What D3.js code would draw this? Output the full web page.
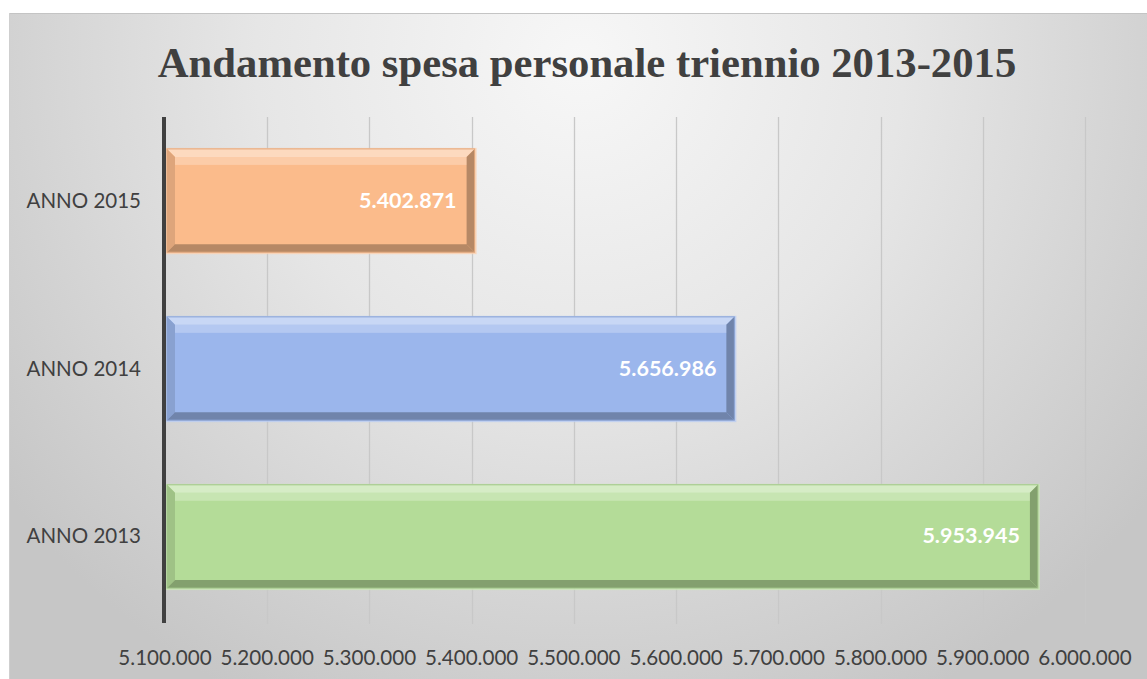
<!DOCTYPE html>
<html>
<meta charset="utf-8">
<head>
<style>
body { margin: 0; background: #fff; }
svg { display: block; }
</style>
</head>
<body>
<svg width="1147" height="679"></svg>

<script src="https://cdn.jsdelivr.net/npm/d3@7"></script>

<script>

// data
var categories = ["ANNO 2015", "ANNO 2014", "ANNO 2013"];
var values = [5402871, 5656986, 5953945];
var barColors = ["#fbbb8b", "#9bb6ec", "#b4dc98"];
var tickValues = [5100000, 5200000, 5300000, 5400000, 5500000, 5600000, 5700000, 5800000, 5900000, 6000000];
var title = "Andamento spesa personale triennio 2013-2015";

var svg = d3.select("svg"),
    width = +svg.attr("width"),
    height = +svg.attr("height");

var margin = {left: 165, right: 62, top: 117, bottom: 59};

var defs = svg.append("defs");
var bg = defs.append("radialGradient")
    .attr("id", "bg")
    .attr("gradientUnits", "userSpaceOnUse")
    .attr("cx", 580).attr("cy", 60).attr("r", 720);
bg.append("stop").attr("offset", "0").attr("stop-color", "#f7f7f7");
bg.append("stop").attr("offset", "0.45").attr("stop-color", "#e6e6e6");
bg.append("stop").attr("offset", "1").attr("stop-color", "#c6c6c6");

// chart area
svg.append("rect")
    .attr("x", 9).attr("y", 13)
    .attr("width", width - 9).attr("height", height - 13)
    .attr("fill", "url(#bg)");
svg.append("line")
    .attr("x1", 9).attr("x2", width).attr("y1", 13.5).attr("y2", 13.5)
    .attr("stroke", "#c4c4c4");
svg.append("line")
    .attr("x1", 9.5).attr("x2", 9.5).attr("y1", 13).attr("y2", height)
    .attr("stroke", "#cfcfcf");

svg.append("text")
    .attr("x", 587).attr("y", 77)
    .attr("text-anchor", "middle")
    .style("font-family", "'Liberation Serif', 'Times New Roman', serif")
    .style("font-weight", "bold")
    .style("font-size", "42.7px")
    .style("fill", "#404040")
    .text(title);

var x = d3.scaleLinear()
    .domain([5100000, 6000000])
    .range([margin.left, width - margin.right]);

var y = d3.scaleBand()
    .domain(categories)
    .range([margin.top, height - margin.bottom])
    .paddingInner(0.385)
    .paddingOuter(0.19);

var fmt = function(v) { return d3.format(",")(v).replace(/,/g, "."); };

// gridlines + ticks
svg.append("g")
  .selectAll("line")
  .data(tickValues.slice(1))
  .enter().append("line")
    .attr("x1", function(d) { return Math.round(x(d)) + 0.5; })
    .attr("x2", function(d) { return Math.round(x(d)) + 0.5; })
    .attr("y1", margin.top)
    .attr("y2", height - margin.bottom + 4)
    .attr("stroke", "#c8c8c8")
    .attr("stroke-width", 1.3);

// tick labels
svg.append("g")
  .selectAll("text")
  .data(tickValues)
  .enter().append("text")
    .attr("x", function(d) { return x(d); })
    .attr("y", 665)
    .attr("text-anchor", "middle")
    .style("font-family", "Lato, 'Open Sans', sans-serif")
    .style("font-size", "20.6px")
    .style("fill", "#404040")
    .text(fmt);

// category labels
svg.append("g")
  .selectAll("text")
  .data(categories)
  .enter().append("text")
    .attr("x", 141)
    .attr("y", function(d) { return y(d) + y.bandwidth() / 2 + 7; })
    .attr("text-anchor", "end")
    .style("font-family", "Lato, 'Open Sans', sans-serif")
    .style("font-size", "20.5px")
    .style("fill", "#404040")
    .text(function(d) { return d; });

// bars with bevel
var bars = svg.append("g")
  .selectAll("g")
  .data(values)
  .enter().append("g");

var bev = 8;

bars.each(function(d, i) {
  var g = d3.select(this);
  var x0 = x(5100000) + 2, x1 = x(d), y0 = y(categories[i]), y1 = y0 + y.bandwidth();
  var c = d3.color(barColors[i]);
  var light = d3.interpolateRgb(c, "#ffffff")(0.45);
  var dark = c.darker(0.9);
  var mid = c.darker(0.35);

  // outer glow / shadow
  g.append("rect")
    .attr("x", x0 - 1).attr("y", y0 - 1)
    .attr("width", x1 - x0 + 3).attr("height", y1 - y0 + 3)
    .attr("fill", d3.interpolateRgb(c, "#ffffff")(0.3)).attr("opacity", 0.8);

  g.append("rect")
    .attr("x", x0).attr("y", y0)
    .attr("width", x1 - x0).attr("height", y1 - y0)
    .attr("fill", c.formatHex());

  // top bevel
  g.append("polygon")
    .attr("points", [[x0, y0], [x1, y0], [x1 - bev, y0 + bev], [x0 + bev, y0 + bev]].join(" "))
    .attr("fill", light);
  // left bevel
  g.append("polygon")
    .attr("points", [[x0, y0], [x0 + bev, y0 + bev], [x0 + bev, y1 - bev], [x0, y1]].join(" "))
    .attr("fill", mid);
  // bottom bevel
  g.append("polygon")
    .attr("points", [[x0, y1], [x0 + bev, y1 - bev], [x1 - bev, y1 - bev], [x1, y1]].join(" "))
    .attr("fill", dark);
  // right bevel
  g.append("polygon")
    .attr("points", [[x1, y0], [x1 - bev, y0 + bev], [x1 - bev, y1 - bev], [x1, y1]].join(" "))
    .attr("fill", dark);

  // highlight strip inside top
  g.append("rect")
    .attr("x", x0 + bev).attr("y", y0 + bev)
    .attr("width", x1 - x0 - 2 * bev).attr("height", 8)
    .attr("fill", "#ffffff").attr("opacity", 0.25);

  g.append("rect")
    .attr("x", x0).attr("y", y0)
    .attr("width", x1 - x0).attr("height", y1 - y0)
    .attr("fill", "none")
    .attr("stroke", c.darker(0.3))
    .attr("stroke-width", 1);

  g.append("text")
    .attr("x", x1 - 18)
    .attr("y", (y0 + y1) / 2 + 7)
    .attr("text-anchor", "end")
    .style("font-family", "Lato, 'Open Sans', sans-serif")
    .style("font-weight", "bold")
    .style("font-size", "21.5px")
    .style("fill", "#ffffff")
    .text(fmt(d));
});

// vertical axis line
svg.append("line")
  .attr("x1", margin.left - 1).attr("x2", margin.left - 1)
  .attr("y1", margin.top)
  .attr("y2", height - margin.bottom + 3)
  .attr("stroke", "#404040")
  .attr("stroke-width", 4);

</script>
</body>
</html>
